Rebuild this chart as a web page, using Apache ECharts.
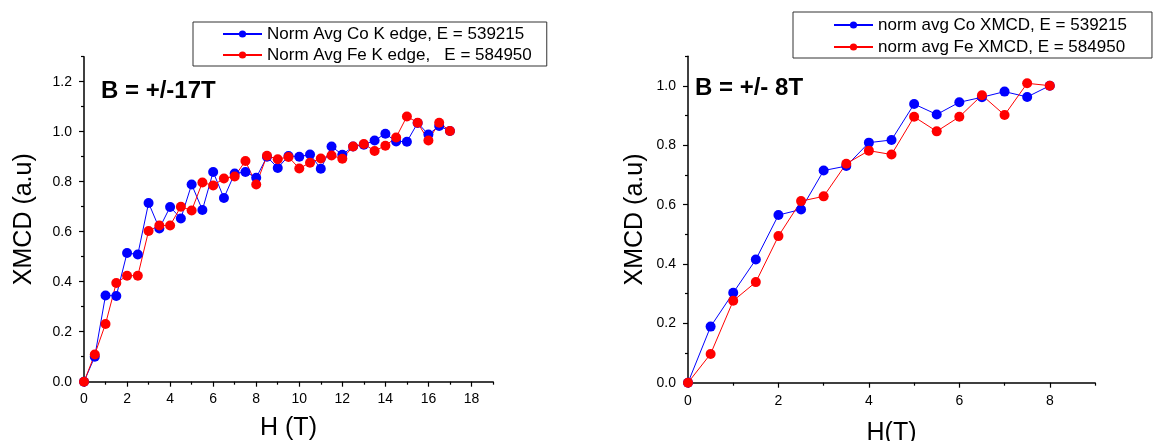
<!DOCTYPE html>
<html>
<head>
<meta charset="utf-8">
<script src="https://cdn.jsdelivr.net/npm/echarts@6/dist/echarts.min.js"></script>
<style>html,body{margin:0;padding:0;background:#fff;}#c{width:1154px;height:441px;}</style>
</head>
<body>
<div id="c"></div>
<script>
// ---- Data ----
const hLeft = [0,0.5,1,1.5,2,2.5,3,3.5,4,4.5,5,5.5,6,6.5,7,7.5,8,8.5,9,9.5,10,10.5,11,11.5,12,12.5,13,13.5,14,14.5,15,15.5,16,16.5,17];
const coLeft = [0,0.10,0.345,0.343,0.515,0.509,0.715,0.613,0.699,0.653,0.789,0.687,0.839,0.735,0.833,0.839,0.816,0.900,0.855,0.903,0.900,0.909,0.852,0.941,0.908,0.941,0.948,0.965,0.992,0.961,0.960,1.035,0.989,1.023,1.003];
const feLeft = [0,0.109,0.231,0.395,0.424,0.424,0.603,0.625,0.625,0.700,0.685,0.797,0.785,0.813,0.821,0.883,0.789,0.904,0.890,0.899,0.853,0.876,0.893,0.905,0.892,0.941,0.951,0.923,0.944,0.977,1.061,1.036,0.965,1.036,1.003];
const hRight = [0,0.5,1,1.5,2,2.5,3,3.5,4,4.5,5,5.5,6,6.5,7,7.5,8];
const coRight = [0,0.189,0.303,0.415,0.565,0.584,0.715,0.730,0.809,0.818,0.939,0.904,0.945,0.962,0.981,0.963,1.001];
const feRight = [0,0.097,0.276,0.339,0.494,0.612,0.628,0.738,0.782,0.769,0.896,0.847,0.896,0.969,0.902,1.009,1.001];

const xMajorLeft = [0,2,4,6,8,10,12,14,16,18];
const xMinorLeft = [1,3,5,7,9,11,13,15,17,19];
const yMajorLeft = [0,0.2,0.4,0.6,0.8,1.0,1.2];
const yMinorLeft = [0.1,0.3,0.5,0.7,0.9,1.1,1.3];
const xMajorRight = [0,2,4,6,8];
const xMinorRight = [1,3,5,7,9];
const yMajorRight = [0,0.2,0.4,0.6,0.8,1.0];
const yMinorRight = [0.1,0.3,0.5,0.7,0.9,1.1];

const nameCoL = 'Norm Avg Co K edge, E = 539215';
const nameFeL = 'Norm Avg Fe K edge,   E = 584950';
const nameCoR = 'norm avg Co XMCD, E = 539215';
const nameFeR = 'norm avg Fe XMCD, E = 584950';

const FONT = '"Liberation Sans", Arial, sans-serif';
const pairs = (xs, ys) => xs.map((x, i) => [x, ys[i]]);

function majorAxis(gi, min, max, vals, dim, name, gap, fmt, margin) {
  return {
    type: 'value', gridIndex: gi, min: min, max: max,
    position: dim === 'x' ? 'bottom' : 'left',
    name: name, nameLocation: 'middle', nameGap: gap,
    nameTextStyle: { fontFamily: FONT, fontSize: 25, color: '#000' },
    axisLine: { show: true, lineStyle: { color: '#000', width: 1.5 } },
    axisTick: { show: true, length: 5, customValues: vals, lineStyle: { color: '#000', width: 1.2 } },
    axisLabel: { show: true, customValues: vals, fontFamily: FONT, fontSize: 14, color: '#000', margin: margin, formatter: fmt },
    splitLine: { show: false }
  };
}
function minorAxis(gi, min, max, vals, dim) {
  return {
    type: 'value', gridIndex: gi, min: min, max: max,
    position: dim === 'x' ? 'bottom' : 'left',
    axisLine: { show: false },
    axisTick: { show: true, length: 3, customValues: vals, lineStyle: { color: '#000', width: 1.2 } },
    axisLabel: { show: false },
    splitLine: { show: false }
  };
}
const fmtInt = v => String(Math.round(v));
const fmt1 = v => v.toFixed(1);

function line(name, data, color, xi, yi) {
  return {
    type: 'line', name: name, data: data, xAxisIndex: xi, yAxisIndex: yi,
    symbol: 'circle', symbolSize: 10, showSymbol: true,
    lineStyle: { color: color, width: 1 },
    itemStyle: { color: color },
    animation: false
  };
}

const chart = echarts.init(document.getElementById('c'), null, { renderer: 'canvas' });
chart.setOption({
  backgroundColor: '#fff',
  animation: false,
  grid: [
    { left: 84, top: 56.7, width: 409, height: 325, containLabel: false, outerBoundsMode: 'none' },
    { left: 688, top: 56.3, width: 407, height: 326.4, containLabel: false, outerBoundsMode: 'none' }
  ],
  xAxis: [
    majorAxis(0, 0, 19, xMajorLeft, 'x', 'H (T)', 34, fmtInt, 10),
    minorAxis(0, 0, 19, xMinorLeft, 'x'),
    majorAxis(1, 0, 9, xMajorRight, 'x', 'H(T)', 38, fmtInt, 11),
    minorAxis(1, 0, 9, xMinorRight, 'x')
  ],
  yAxis: [
    majorAxis(0, 0, 1.3, yMajorLeft, 'y', 'XMCD (a.u)', 47, fmt1, 12),
    minorAxis(0, 0, 1.3, yMinorLeft, 'y'),
    majorAxis(1, 0, 1.1, yMajorRight, 'y', 'XMCD (a.u)', 40, fmt1, 12),
    minorAxis(1, 0, 1.1, yMinorRight, 'y')
  ],
  legend: [
    {
      data: [nameCoL, nameFeL], orient: 'vertical', left: 193, top: 22,
      itemWidth: 39, itemHeight: 9, itemGap: 1,
      padding: [2, 15, 1, 29],
      borderColor: '#333', borderWidth: 1, borderRadius: 0,
      textStyle: { fontFamily: FONT, fontSize: 17, color: '#000', lineHeight: 20 },
      selectedMode: false
    },
    {
      data: [nameCoR, nameFeR], orient: 'vertical', left: 793, top: 12,
      itemWidth: 39, itemHeight: 9, itemGap: 2,
      padding: [3, 25, 1, 40],
      borderColor: '#333', borderWidth: 1, borderRadius: 0,
      textStyle: { fontFamily: FONT, fontSize: 17, color: '#000', lineHeight: 20 },
      selectedMode: false
    }
  ],
  graphic: [
    { type: 'text', left: 101, top: 79, style: { text: 'B = +/-17T', font: 'bold 24px ' + FONT, fill: '#000' } },
    { type: 'text', left: 695, top: 76, style: { text: 'B = +/- 8T', font: 'bold 24px ' + FONT, fill: '#000' } }
  ],
  series: [
    line(nameCoL, pairs(hLeft, coLeft), '#0000ff', 0, 0),
    line(nameFeL, pairs(hLeft, feLeft), '#ff0000', 0, 0),
    line(nameCoR, pairs(hRight, coRight), '#0000ff', 2, 2),
    line(nameFeR, pairs(hRight, feRight), '#ff0000', 2, 2)
  ]
});
</script>
</body>
</html>
